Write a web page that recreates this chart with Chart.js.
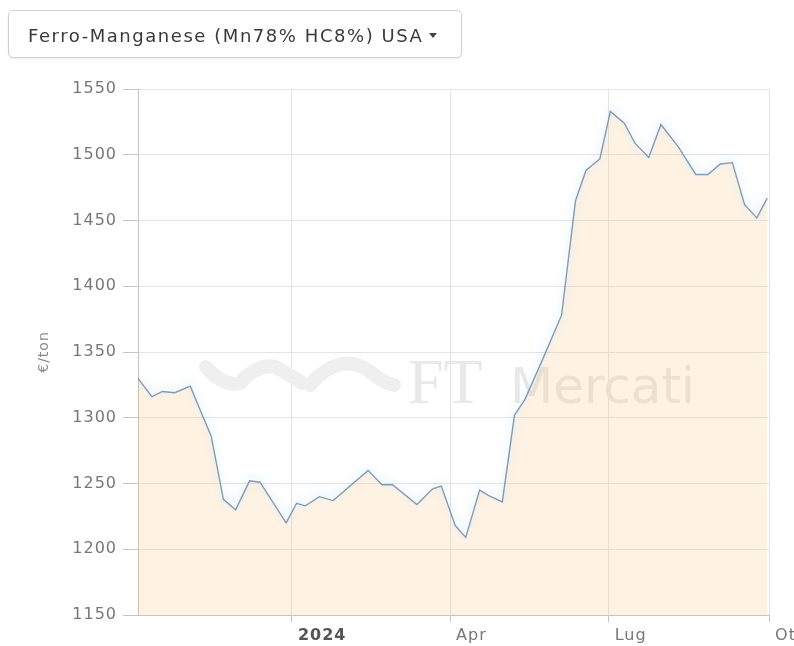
<!DOCTYPE html>
<html><head><meta charset="utf-8">
<script src="https://cdn.jsdelivr.net/npm/chart.js@4.4.1/dist/chart.umd.min.js"></script>
<style>
html,body{margin:0;padding:0;background:#fff;width:794px;height:646px;overflow:hidden;}
#wrap{position:relative;width:794px;height:646px;}
#chart{position:absolute;left:0;top:0;}
#dd{position:absolute;left:8px;top:10px;width:454px;height:48px;border:1px solid #cfcfcf;border-radius:5px;box-shadow:0 1px 2px rgba(0,0,0,0.08);font-family:"DejaVu Sans",Verdana,sans-serif;font-size:18px;line-height:21px;letter-spacing:1.55px;color:#3a3a3a;box-sizing:border-box;padding:14px 0 0 19px;white-space:nowrap;background:#fff;}
.caret{display:inline-block;width:0;height:0;border-top:5px solid #444;border-left:4px solid transparent;border-right:4px solid transparent;vertical-align:middle;margin-left:6px;margin-top:-3px;}
</style></head>
<body>
<div id="wrap">
<canvas id="chart" width="794" height="646"></canvas>
<div id="dd">Ferro-Manganese (Mn78% HC8%) USA<span class="caret"></span></div>
</div>
<script>
// ---- data ----
const dates = [
 '2023-10-05','2023-10-13','2023-10-19','2023-10-26','2023-11-04','2023-11-09','2023-11-16','2023-11-23','2023-11-30','2023-12-08',
 '2023-12-14','2023-12-29','2024-01-04','2024-01-09','2024-01-17','2024-01-25','2024-02-14','2024-02-22','2024-02-28','2024-03-13',
 '2024-03-22','2024-03-27','2024-04-04','2024-04-10','2024-04-18','2024-04-23','2024-05-01','2024-05-08','2024-05-14','2024-05-24',
 '2024-06-04','2024-06-12','2024-06-18','2024-06-26','2024-07-02','2024-07-10','2024-07-16','2024-07-24','2024-07-31','2024-08-10',
 '2024-08-20','2024-08-27','2024-09-03','2024-09-10','2024-09-17','2024-09-24','2024-09-30'
];
const prices = [
 1330,1316,1320,1319,1324,1308,1286,1238,1230,1252,
 1251,1220,1235,1233,1240,1237,1260,1249,1249,1234,
 1246,1248,1218,1209,1245,1241,1236,1302,1314,1344,
 1378,1465,1488,1497,1533,1524,1509,1498,1523,1506,
 1485,1485,1493,1494,1462,1452,1467
];
const xTickDates = ['2024-01-01','2024-04-01','2024-07-01','2024-10-01'];
const xTickLabels = ['2024','Apr','Lug','Ott'];
const yTicks = [1150,1200,1250,1300,1350,1400,1450,1500,1550];
const yTitle = '€/ton';
const watermarkWords = ['FT', 'Mercati'];

// ---- helpers ----
const BASE = Date.parse('2024-01-01');
const toDay = s => Math.round((Date.parse(s) - BASE) / 86400000);
const points = dates.map((d, i) => ({x: toDay(d), y: prices[i]}));
const xTickDays = xTickDates.map(toDay);

const FONT = '"DejaVu Sans", Verdana, sans-serif';

const spacingPlugin = {
  id: 'spacing',
  beforeUpdate(c){ c.ctx.letterSpacing = '1px'; },
  beforeLayout(c){ c.ctx.letterSpacing = '1px'; },
  beforeDraw(c){ c.ctx.letterSpacing = '1px'; }
};

const watermarkPlugin = {
  id: 'wm',
  beforeDatasetsDraw(c){
    const ctx = c.ctx, a = c.chartArea;
    const ox = a.left + 68, oy = a.top + 290;
    ctx.save();
    ctx.letterSpacing = '0px';
    ctx.strokeStyle = '#efefef';
    ctx.lineWidth = 14;
    ctx.lineCap = 'round';
    ctx.lineJoin = 'round';
    ctx.beginPath();
    ctx.moveTo(ox + 0, oy - 12);
    ctx.quadraticCurveTo(ox + 18, oy + 8, ox + 34, oy + 4);
    ctx.quadraticCurveTo(ox + 52, oy - 16, ox + 70, oy - 12);
    ctx.quadraticCurveTo(ox + 84, oy - 4, ox + 96, oy + 4);
    ctx.moveTo(ox + 104, oy + 6);
    ctx.quadraticCurveTo(ox + 136, oy - 30, ox + 166, oy - 6);
    ctx.quadraticCurveTo(ox + 178, oy + 4, ox + 188, oy + 6);
    ctx.stroke();
    ctx.fillStyle = '#e9e9e9';
    ctx.textBaseline = 'alphabetic';
    ctx.textAlign = 'left';
    ctx.font = '64px "Liberation Serif", "Times New Roman", serif';
    ctx.fillText(watermarkWords[0], a.left + 270, oy + 24);
    ctx.font = '50px "DejaVu Sans", sans-serif';
    ctx.fillText(watermarkWords[1], a.left + 372, oy + 24);
    ctx.restore();
  }
};

const glowPlugin = {
  id: 'glow',
  beforeDatasetDraw(c){
    const ctx = c.ctx;
    ctx.save();
    ctx.shadowColor = 'rgba(120,175,230,0.45)';
    ctx.shadowBlur = 10;
    ctx.shadowOffsetY = -3;
  },
  afterDatasetDraw(c){ c.ctx.restore(); }
};

new Chart(document.getElementById('chart'), {
  type: 'line',
  data: {
    datasets: [{
      data: points,
      borderColor: '#7c9cba',
      borderWidth: 1.4,
      backgroundColor: 'rgba(247,190,100,0.18)',
      fill: 'start',
      pointRadius: 0,
      tension: 0
    }]
  },
  options: {
    responsive: false,
    animation: false,
    devicePixelRatio: 1,
    layout: {padding: {top: 89, right: 25, left: 0, bottom: 0}},
    plugins: {legend: {display: false}, tooltip: {enabled: false}},
    scales: {
      x: {
        type: 'linear',
        min: toDay(dates[0]),
        max: xTickDays[xTickDays.length - 1],
        afterBuildTicks(s){ s.ticks = xTickDays.map(v => ({value: v})); },
        afterFit(s){ s.height = 31; s.paddingLeft = 0; s.paddingRight = 0; },
        border: {display: true, color: '#c4c4c4', width: 1},
        grid: {color: '#e4e4e4', tickColor: '#c4c4c4', tickLength: 7, drawTicks: true},
        ticks: {
          align: 'start',
          padding: 4,
          maxRotation: 0,
          autoSkip: false,
          color: ctx => (ctx.tick && ctx.tick.value === 0) ? '#555' : '#777',
          font: ctx => (ctx.tick && ctx.tick.value === 0) ? {family: FONT, size: 16, weight: 'bold'} : {family: FONT, size: 16},
          callback: v => ' ' + xTickLabels[xTickDays.indexOf(v)]
        }
      },
      y: {
        min: yTicks[0],
        max: yTicks[yTicks.length - 1],
        afterBuildTicks(s){ s.ticks = yTicks.map(v => ({value: v})); },
        afterFit(s){ s.width = 138; },
        border: {display: true, color: '#c4c4c4', width: 1},
        grid: {color: '#e4e4e4', tickColor: '#c4c4c4', tickLength: 15},
        title: {display: true, text: yTitle, color: '#8a8a8a', font: {family: FONT, size: 14}, padding: {top: 36, bottom: 0}},
        ticks: {
          padding: 6,
          color: '#777',
          font: {family: FONT, size: 16},
          callback: v => String(v)
        }
      }
    }
  },
  plugins: [spacingPlugin, watermarkPlugin, glowPlugin]
});
</script>
</body></html>
